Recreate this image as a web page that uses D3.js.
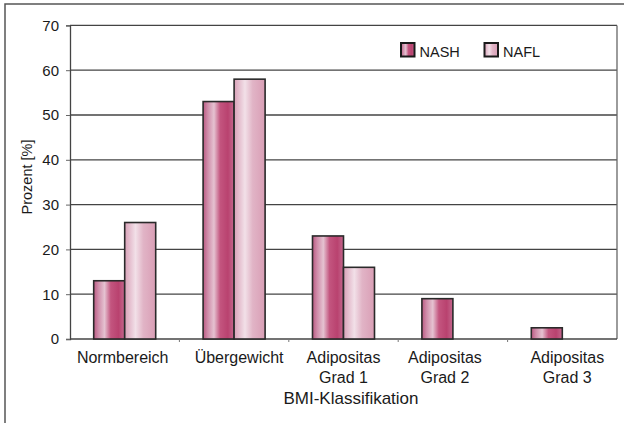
<!DOCTYPE html>
<html>
<head>
<meta charset="utf-8">
<script src="https://cdn.jsdelivr.net/npm/d3@7"></script>
<style>
  html, body { margin: 0; padding: 0; background: #fff; }
  svg { display: block; font-family: "Liberation Sans", Arial, sans-serif; }
</style>
</head>
<body>
<svg id="chart" width="624" height="423"></svg>
<script>
// BMI classes and share of patients per group (percent)
const categories = [
  ["Normbereich"],
  ["Übergewicht"],
  ["Adipositas", "Grad 1"],
  ["Adipositas", "Grad 2"],
  ["Adipositas", "Grad 3"]
];
const seriesNames = ["NASH", "NAFL"];
const nashValues = [13, 53, 23, 9, 2.5];
const naflValues = [26, 58, 16, 0, 0];
const yTicks = [0, 10, 20, 30, 40, 50, 60, 70];
const yTitle = "Prozent [%]";
const xTitle = "BMI-Klassifikation";

const svg = d3.select("#chart");
const margin = { left: 70, right: 7, top: 25.4, bottom: 84 };
const W = 624, H = 423;
const plotRight = W - margin.right;
const plotBottom = H - margin.bottom;

// Outer frame
svg.append("rect")
  .attr("x", 5).attr("y", 4)
  .attr("width", 640).attr("height", 440)
  .attr("fill", "none").attr("stroke", "#555").attr("stroke-width", 1.5);

// Bar gradients (vertical stripes)
const defs = svg.append("defs");
function stripe(id, stops) {
  const g = defs.append("linearGradient").attr("id", id)
    .attr("x1", "0%").attr("x2", "100%").attr("y1", "0%").attr("y2", "0%");
  stops.forEach(([o, c]) => g.append("stop").attr("offset", o).attr("stop-color", c));
}
stripe("gNASH", [["0%", "#bb5a83"], ["15%", "#cf8ca9"], ["35%", "#e5c2d1"], ["55%", "#c3557f"], ["80%", "#b9426f"], ["100%", "#c4688e"]]);
stripe("gNAFL", [["0%", "#d9a1b8"], ["35%", "#f2e0e8"], ["60%", "#e1b4c6"], ["100%", "#d99eb5"]]);
const fills = { NASH: "url(#gNASH)", NAFL: "url(#gNAFL)" };

const keys = categories.map(c => c.join(" "));
const x = d3.scaleBand().domain(keys).range([margin.left, plotRight]).paddingInner(0).paddingOuter(0);
const x1 = d3.scaleBand().domain(seriesNames).range([-31, 31]);
const y = d3.scaleLinear().domain([0, 70]).range([plotBottom, margin.top]);

// Gridlines
svg.append("g").selectAll("line").data(yTicks.filter(t => t > 0)).join("line")
  .attr("x1", margin.left).attr("x2", plotRight)
  .attr("y1", d => y(d)).attr("y2", d => y(d))
  .attr("stroke", "#444").attr("stroke-width", 1.3);

// Right border of plot area
svg.append("line")
  .attr("x1", plotRight).attr("x2", plotRight)
  .attr("y1", y(70)).attr("y2", y(0))
  .attr("stroke", "#666").attr("stroke-width", 1.3);

// Y axis
const yAxis = d3.axisLeft(y).tickValues(yTicks).tickSize(4).tickPadding(7);
const gy = svg.append("g").attr("transform", `translate(${margin.left},0)`).call(yAxis);
gy.select(".domain").attr("stroke", "#444").attr("stroke-width", 1.3);
gy.selectAll(".tick line").attr("stroke", "#666");
gy.selectAll(".tick text").attr("font-size", 15).attr("fill", "#1a1a1a")
  .attr("font-family", "Liberation Sans, Arial, sans-serif");

// X axis (ticks at band boundaries)
const gx = svg.append("g").attr("transform", `translate(0,${plotBottom})`);
gx.append("line").attr("x1", margin.left).attr("x2", plotRight)
  .attr("stroke", "#444").attr("stroke-width", 1.3);
gx.selectAll("line.tk").data(keys.slice(1)).join("line").attr("class", "tk")
  .attr("x1", d => x(d)).attr("x2", d => x(d)).attr("y1", 0).attr("y2", 3)
  .attr("stroke", "#777");

// Bars
const rows = keys.map((k, i) => ({ key: k, values: [
  { name: "NASH", v: nashValues[i] }, { name: "NAFL", v: naflValues[i] }
]}));
const groups = svg.append("g").selectAll("g").data(rows).join("g")
  .attr("transform", d => `translate(${x(d.key) + x.bandwidth() / 2},0)`);
groups.selectAll("rect").data(d => d.values.filter(v => v.v > 0)).join("rect")
  .attr("x", d => x1(d.name))
  .attr("width", x1.bandwidth())
  .attr("y", d => y(d.v))
  .attr("height", d => y(0) - y(d.v))
  .attr("fill", d => fills[d.name])
  .attr("stroke", "#2a2a2a").attr("stroke-width", 1.6);

// Category labels
const labelShift = [-2, 5, 0, -8, 5];
const cl = svg.append("g").selectAll("text").data(categories).join("text")
  .attr("x", (d, i) => x(keys[i]) + x.bandwidth() / 2 + labelShift[i])
  .attr("y", 363)
  .attr("text-anchor", "middle").attr("font-size", 16).attr("fill", "#1a1a1a");
cl.selectAll("tspan").data(d => d).join("tspan")
  .attr("x", function () { return d3.select(this.parentNode).attr("x"); })
  .attr("dy", (d, i) => i === 0 ? 0 : 19.7)
  .text(d => d);

// Axis titles
svg.append("text").attr("x", 351).attr("y", 404).attr("text-anchor", "middle")
  .attr("font-size", 17).attr("fill", "#1a1a1a").text(xTitle);
svg.append("text").attr("transform", "translate(32,177) rotate(-90)")
  .attr("text-anchor", "middle").attr("font-size", 14.5).attr("fill", "#1a1a1a").text(yTitle);

// Legend
const legendX = [401, 484.5];
const lg = svg.append("g").selectAll("g").data(seriesNames).join("g")
  .attr("transform", (d, i) => `translate(${legendX[i]},43)`);
lg.append("rect").attr("width", 13.5).attr("height", 13.5)
  .attr("fill", d => fills[d]).attr("stroke", "#1a1a1a").attr("stroke-width", 2);
lg.append("text").attr("x", 18.5).attr("y", 13.5)
  .attr("font-size", 14.5).attr("fill", "#1a1a1a").text(d => d);
</script>
</body>
</html>
